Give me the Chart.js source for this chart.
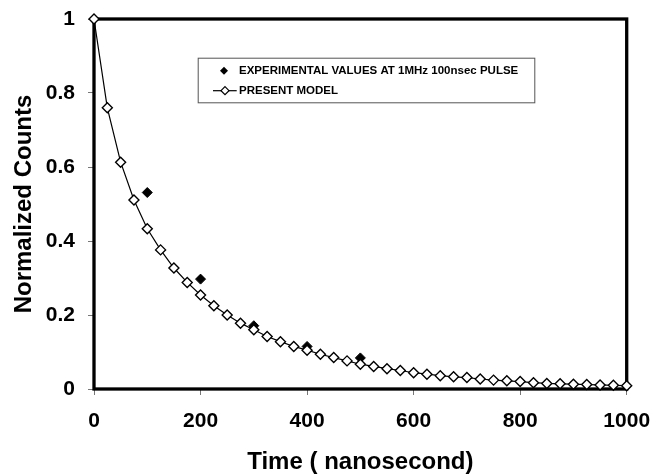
<!DOCTYPE html>
<html>
<head>
<meta charset="utf-8">
<script src="https://cdn.jsdelivr.net/npm/chart.js@4.4.1/dist/chart.umd.min.js"></script>
<style>
  html, body { margin: 0; padding: 0; background: #fff; }
  #wrap { width: 654px; height: 474px; position: relative; }
</style>
</head>
<body>
<div id="wrap"><canvas id="c" width="654" height="474"></canvas></div>
<script>
// ---- data ----
const modelTimes = [0, 25, 50, 75, 100, 125, 150, 175, 200, 225, 250, 275, 300, 325, 350, 375, 400, 425, 450, 475, 500,
  525, 550, 575, 600, 625, 650, 675, 700, 725, 750, 775, 800, 825, 850, 875, 900, 925, 950, 975, 1000];
const modelValues = [1.0, 0.760, 0.613, 0.511, 0.433, 0.376, 0.327, 0.288, 0.254, 0.225, 0.200, 0.178, 0.160, 0.142, 0.128, 0.115, 0.105, 0.094, 0.085, 0.076, 0.067,
  0.061, 0.055, 0.050, 0.044, 0.040, 0.036, 0.033, 0.031, 0.027, 0.024, 0.022, 0.020, 0.017, 0.015, 0.014, 0.013, 0.012, 0.011, 0.010, 0.009];
const expTimes = [100, 200, 300, 400, 500];
const expValues = [0.531, 0.297, 0.171, 0.115, 0.084];
const seriesLabels = ['EXPERIMENTAL VALUES AT 1MHz 100nsec PULSE', 'PRESENT MODEL'];
const xTitle = 'Time ( nanosecond)';
const yTitle = 'Normalized Counts';

const FONT = "'Liberation Sans', Arial, Helvetica, sans-serif";

const framePlugin = {
  id: 'frame',
  beforeDatasetsDraw(chart) {
    const {ctx, chartArea: a} = chart;
    ctx.save();
    ctx.strokeStyle = '#000';
    ctx.lineWidth = 3.3;
    ctx.strokeRect(a.left, a.top, a.right - a.left, a.bottom - a.top);
    ctx.restore();
  }
};

const legendBoxPlugin = {
  id: 'legendBox',
  afterDatasetsDraw(chart, args, opts) {
    const ctx = chart.ctx;
    const b = opts.box;
    ctx.save();
    ctx.fillStyle = '#fff';
    ctx.fillRect(b.x, b.y, b.w, b.h);
    ctx.strokeStyle = '#555';
    ctx.lineWidth = 1;
    ctx.strokeRect(b.x + 0.5, b.y + 0.5, b.w, b.h);
    ctx.font = 'bold ' + opts.fontSize + 'px ' + FONT;
    ctx.textBaseline = 'middle';
    ctx.fillStyle = '#000';
    const ds = chart.data.datasets;
    const y1 = b.y + opts.row1, y2 = b.y + opts.row2;
    const mx = b.x + opts.markerX;
    // item 1: filled diamond
    ctx.beginPath();
    ctx.moveTo(mx, y1 - 4); ctx.lineTo(mx + 4, y1); ctx.lineTo(mx, y1 + 4); ctx.lineTo(mx - 4, y1); ctx.closePath();
    ctx.fill();
    ctx.fillText(ds[0].label, b.x + opts.textX, y1 + 0.5);
    // item 2: line + open diamond
    ctx.strokeStyle = '#000';
    ctx.beginPath();
    ctx.lineWidth = 1.2;
    ctx.moveTo(b.x + opts.lineX0, y2); ctx.lineTo(b.x + opts.lineX1, y2);
    ctx.stroke();
    ctx.beginPath();
    ctx.moveTo(mx + 1, y2 - 4); ctx.lineTo(mx + 5, y2); ctx.lineTo(mx + 1, y2 + 4); ctx.lineTo(mx - 3, y2); ctx.closePath();
    ctx.fillStyle = '#fff';
    ctx.fill();
    ctx.stroke();
    ctx.fillStyle = '#000';
    ctx.fillText(ds[1].label, b.x + opts.textX, y2 + 0.5);
    ctx.restore();
  }
};

const modelData = modelTimes.map((t, i) => ({x: t, y: modelValues[i]}));
const expData = expTimes.map((t, i) => ({x: t, y: expValues[i]}));

new Chart(document.getElementById('c'), {
  type: 'scatter',
  data: {
    datasets: [
      {
        label: seriesLabels[0],
        data: expData,
        showLine: false,
        pointStyle: 'rectRot',
        pointRadius: 5,
        pointBackgroundColor: '#000',
        pointBorderColor: '#000',
        pointBorderWidth: 1,
        clip: false,
        order: 2
      },
      {
        label: seriesLabels[1],
        data: modelData,
        showLine: true,
        borderColor: '#000',
        borderWidth: 1.2,
        tension: 0,
        pointStyle: 'rectRot',
        pointRadius: 5,
        pointBackgroundColor: '#fff',
        pointBorderColor: '#000',
        pointBorderWidth: 1.4,
        clip: false,
        order: 1
      }
    ]
  },
  options: {
    responsive: false,
    animation: false,
    devicePixelRatio: 1,
    layout: { padding: { top: 19, right: 27.3, left: 0, bottom: 0 } },
    plugins: {
      legend: { display: false },
      tooltip: { enabled: false },
      legendBox: {
        box: { x: 197.7, y: 57.7, w: 336.6, h: 44.6 },
        fontSize: 11.5,
        row1: 13, row2: 33,
        markerX: 26.3, textX: 41.3, lineX0: 15.3, lineX1: 39
      }
    },
    scales: {
      x: {
        type: 'linear',
        min: 0, max: 1000,
        afterFit(scale) { scale.height = 85; scale.paddingRight = 0; scale.paddingLeft = 0; },
        ticks: {
          stepSize: 200,
          color: '#000',
          padding: 14,
          maxRotation: 0,
          callback: (v) => String(v),
          font: { family: FONT, size: 21, weight: 'bold' }
        },
        grid: { drawOnChartArea: false, drawTicks: true, tickLength: 6, color: '#777', lineWidth: 1 },
        border: { display: false },
        title: {
          display: true,
          text: xTitle,
          color: '#000',
          font: { family: FONT, size: 24, weight: 'bold', lineHeight: 1 },
          padding: { top: 0, bottom: 0 }
        }
      },
      y: {
        type: 'linear',
        min: 0, max: 1,
        afterFit(scale) { scale.width = 94; scale.paddingTop = 0; scale.paddingBottom = 0; },
        ticks: {
          stepSize: 0.2,
          color: '#000',
          padding: 13,
          callback: (v) => String(Math.round(v * 10) / 10),
          font: { family: FONT, size: 21, weight: 'bold' }
        },
        grid: { drawOnChartArea: false, drawTicks: true, tickLength: 6, color: '#777', lineWidth: 1 },
        border: { display: false },
        title: {
          display: true,
          text: yTitle,
          color: '#000',
          font: { family: FONT, size: 24, weight: 'bold', lineHeight: 1 },
          padding: { top: 12, bottom: 0 }
        }
      }
    }
  },
  plugins: [framePlugin, legendBoxPlugin]
});
</script>
</body>
</html>
